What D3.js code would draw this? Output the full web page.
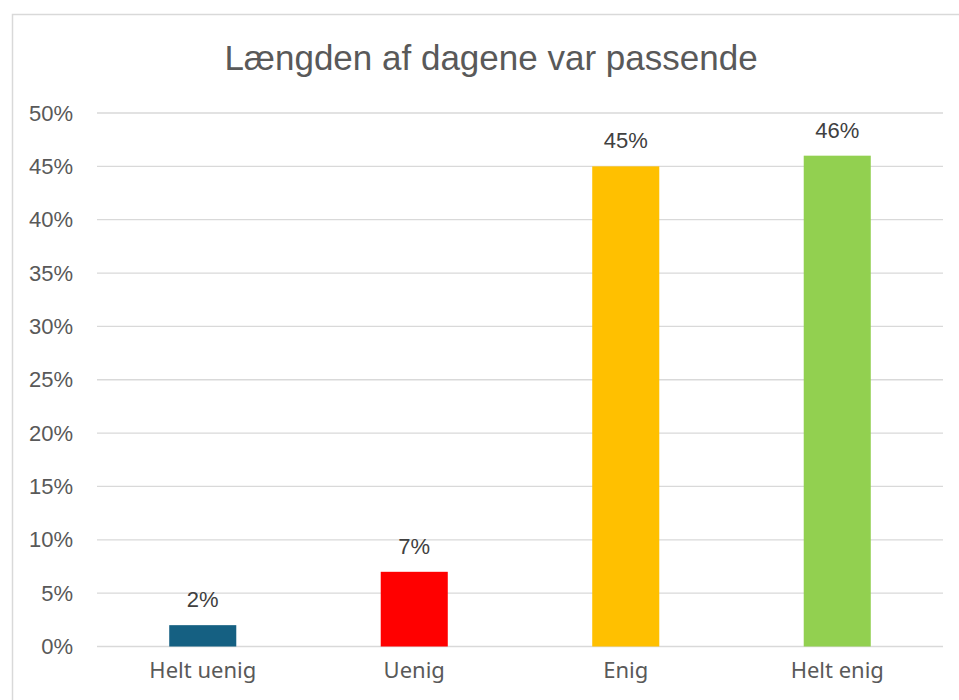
<!DOCTYPE html>
<html>
<head>
<meta charset="utf-8">
<script src="https://cdn.jsdelivr.net/npm/d3@7"></script>
<style>
  body { margin: 0; background: #fff; }
</style>
</head>
<body>
<div id="chart"></div>
<script>
const categories = ["Helt uenig", "Uenig", "Enig", "Helt enig"];
const values = [0.02, 0.07, 0.45, 0.46];
const colors = ["#156082", "#ff0000", "#ffc000", "#92d050"];
const yTicks = [0, 0.05, 0.10, 0.15, 0.20, 0.25, 0.30, 0.35, 0.40, 0.45, 0.50];
const title = "Længden af dagene var passende";

const W = 959, H = 700;
const margin = { top: 113, right: 16, bottom: 53, left: 97 };
const width = 943 - margin.left;
const height = 646.5 - margin.top;

const svg = d3.select("#chart").append("svg")
    .attr("width", W)
    .attr("height", H);

// chart frame
svg.append("rect")
    .attr("x", 12.5).attr("y", 14.5)
    .attr("width", 960).attr("height", 700)
    .attr("fill", "none")
    .attr("stroke", "#d9d9d9")
    .attr("stroke-width", 1.5);

svg.append("text")
    .attr("x", 491).attr("y", 70)
    .attr("text-anchor", "middle")
    .attr("font-family", "Liberation Sans, Arial, sans-serif")
    .attr("font-size", "35px")
    .attr("fill", "#595959")
    .text(title);

const g = svg.append("g")
    .attr("transform", `translate(${margin.left}, ${margin.top})`);

const x = d3.scaleBand()
    .domain(categories)
    .range([0, width])
    .paddingInner(0.683)
    .paddingOuter(0.3415);

const y = d3.scaleLinear()
    .domain([0, 0.5])
    .range([height, 0]);

// gridlines
g.append("g")
    .selectAll("line")
    .data(yTicks)
    .enter()
    .append("line")
    .attr("x1", 0).attr("x2", width)
    .attr("y1", d => y(d)).attr("y2", d => y(d))
    .attr("stroke", "#d9d9d9")
    .attr("stroke-width", 1.3);

const yAxis = d3.axisLeft(y)
    .tickValues(yTicks)
    .tickFormat(d3.format(".0%"))
    .tickSize(0)
    .tickPadding(24);

g.append("g")
    .call(yAxis)
    .call(s => s.select(".domain").remove())
    .selectAll("text")
    .attr("font-family", "Liberation Sans, Arial, sans-serif")
    .attr("font-size", "22px")
    .attr("fill", "#595959");

const xAxis = d3.axisBottom(x)
    .tickSize(0)
    .tickPadding(16);

g.append("g")
    .attr("transform", `translate(0, ${height})`)
    .call(xAxis)
    .call(s => s.select(".domain").remove())
    .selectAll("text")
    .attr("font-family", "Noto Sans, Liberation Sans, sans-serif")
    .attr("font-size", "22px")
    .attr("fill", "#595959");

const bars = g.selectAll(".bar")
    .data(categories.map((c, i) => ({ cat: c, value: values[i], color: colors[i] })))
    .enter()
    .append("g")
    .attr("class", "bar");

bars.append("rect")
    .attr("x", d => x(d.cat))
    .attr("y", d => y(d.value))
    .attr("width", x.bandwidth())
    .attr("height", d => height - y(d.value))
    .attr("fill", d => d.color);

bars.append("text")
    .attr("x", d => x(d.cat) + x.bandwidth() / 2)
    .attr("y", d => y(d.value) - 18)
    .attr("text-anchor", "middle")
    .attr("font-family", "Liberation Sans, Arial, sans-serif")
    .attr("font-size", "22px")
    .attr("fill", "#404040")
    .text(d => d3.format(".0%")(d.value));
</script>
</body>
</html>
